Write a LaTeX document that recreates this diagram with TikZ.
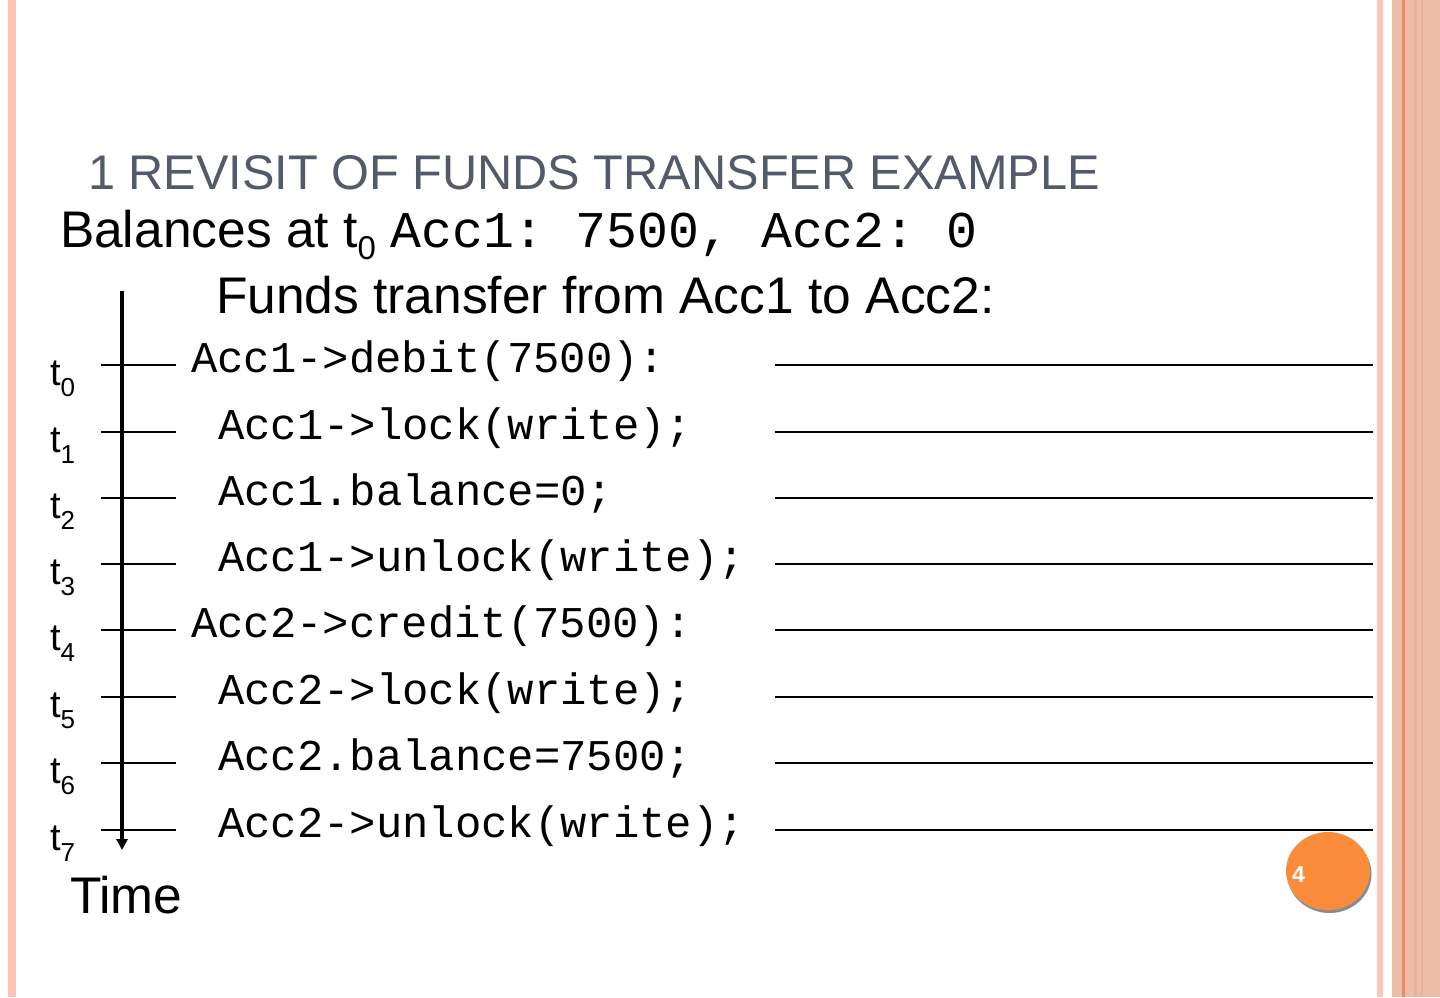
\documentclass[tikz,border=0pt]{standalone}
\usepackage{fontspec}
\usepackage{graphicx}
\setmainfont{Liberation Sans}
\setmonofont{Liberation Mono}
\usetikzlibrary{arrows.meta}
\definecolor{titlegray}{RGB}{83,90,106}
\definecolor{leftstripe}{RGB}{251,195,177}
\definecolor{rstripe}{RGB}{251,198,184}
\definecolor{rband}{RGB}{239,188,168}
\definecolor{rline}{RGB}{236,140,90}
\definecolor{rsub}{RGB}{232,178,158}
\definecolor{badge}{RGB}{250,140,60}
\definecolor{badgeshadow}{RGB}{140,140,140}
\tikzset{
  txt/.style={anchor=base west, inner sep=0pt, outer sep=0pt},
  codeline/.style={txt, font=\fontsize{43.9}{50}\selectfont\ttfamily},
  tlabel/.style={txt, font=\fontsize{38}{44}\selectfont},
  tick/.style={line width=1.4pt, black},
  guide/.style={line width=1.4pt, black},
}
\newcommand{\tsub}[1]{t\raisebox{-11pt}{\fontsize{26}{26}\selectfont #1}}
\begin{document}
\begin{tikzpicture}[x=1pt,y=-1pt]
\useasboundingbox (0,0) rectangle (1440,997);
\fill[white] (0,0) rectangle (1440,997);
% decorative borders
\fill[leftstripe] (8,0) rectangle (16,997);
\fill[rstripe] (1377,0) rectangle (1383,997);
\fill[rband] (1392,0) rectangle (1440,997);
\fill[rsub] (1414,0) rectangle (1417,997);
\fill[rsub] (1421,0) rectangle (1423,997);
\fill[rline] (1402,0) rectangle (1405,997);
% title
\node[txt, text=titlegray] (title) at (88,189) {\resizebox{1012pt}{34pt}{\fontsize{44}{50}\selectfont 1 REVISIT OF FUNDS TRANSFER EXAMPLE}};
% balances
\node[txt] (bal) at (60,247) {\fontsize{51.5}{60}\selectfont Balances at t\raisebox{-12pt}{\fontsize{33}{33}\selectfont 0} \texttt{Acc1: 7500, Acc2: 0}};
\node[txt] (funds) at (216,313) {\fontsize{51.5}{60}\selectfont Funds transfer from Acc1 to Acc2:};
% code lines
\node[codeline] (c0) at (191,372) {Acc1->debit(7500):};
\node[codeline] (c1) at (218,439) {Acc1->lock(write);};
\node[codeline] (c2) at (218,505) {Acc1.balance=0;};
\node[codeline] (c3) at (218,571) {Acc1->unlock(write);};
\node[codeline] (c4) at (191,637) {Acc2->credit(7500):};
\node[codeline] (c5) at (218,704) {Acc2->lock(write);};
\node[codeline] (c6) at (218,770) {Acc2.balance=7500;};
\node[codeline] (c7) at (218,837) {Acc2->unlock(write);};
% time labels, ticks and guides
\foreach \i/\y in {0/365,1/432,2/498,3/564,4/630,5/697,6/763,7/830}{
  \node[tlabel] (t\i) at (50,\y+20) {\tsub{\i}};
  \coordinate (ta\i) at (101,\y);
  \coordinate (tb\i) at (176,\y);
  \coordinate (ga\i) at (775,\y);
  \coordinate (gb\i) at (1373,\y);
  \draw[tick] (ta\i) -- (tb\i);
  \draw[guide] (ga\i) -- (gb\i);
}
% time arrow
\coordinate (arrtop) at (122,291);
\coordinate (arrbot) at (122,850);
\draw[line width=3.5pt, -{Triangle[length=11pt,width=11pt]}] (arrtop) -- (arrbot);
\node[txt] (time) at (70,913) {\fontsize{51.5}{60}\selectfont Time};
% page badge
\fill[badgeshadow] (1329.5,874) ellipse [x radius=42, y radius=39];
\fill[badge] (1328,871) ellipse [x radius=42, y radius=39];
\node[txt, text=white] (pg) at (1292,882) {\fontsize{23}{26}\selectfont\bfseries 4};
\end{tikzpicture}
\end{document}
